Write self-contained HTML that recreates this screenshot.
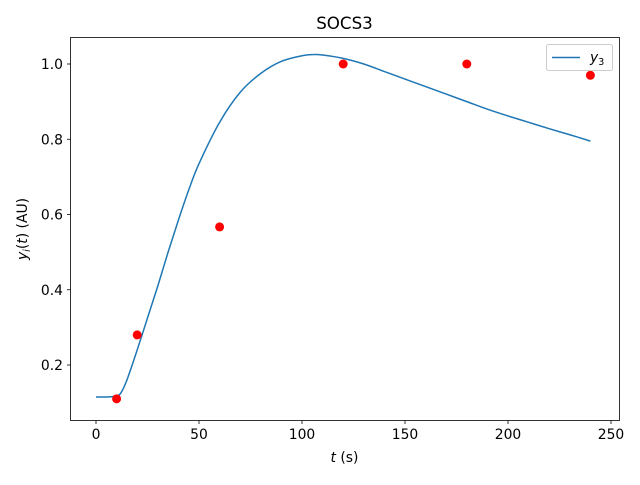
<!DOCTYPE html>
<html><head><meta charset="utf-8"><style>
body{margin:0;background:#fff;font-family:"Liberation Sans","DejaVu Sans",sans-serif}
svg text{font-family:"DejaVu Sans","Liberation Sans",sans-serif;font-size:13.9px;fill:#000}
</style></head><body>
<svg id="c" width="640" height="480" xmlns="http://www.w3.org/2000/svg">
<rect width="640" height="480" fill="#fff"/>
</svg>
<script>
const curveT=[0,5,8,10,12,15,20,25,30,35,40,45,50,60,70,80,90,100,105,110,120,130,140,150,160,170,180,190,200,210,220,230,240];
const curveY=[0.115,0.115,0.116,0.118,0.125,0.16,0.24,0.325,0.41,0.5,0.585,0.665,0.735,0.845,0.925,0.975,1.007,1.022,1.025,1.024,1.015,1.0,0.98,0.96,0.94,0.92,0.9,0.88,0.862,0.845,0.828,0.812,0.795];
const dataT=[10,20,60,120,180,240];
const dataY=[0.11,0.28,0.567,1.0,1.0,0.97];
const xTicks=[0,50,100,150,200,250];
const yTicks=[0.2,0.4,0.6,0.8,1.0];
const NS="http://www.w3.org/2000/svg";
const svg=document.getElementById('c');
const L=70,R=619,T=37,B=420;
const X=t=>96+t*(611-96)/250;
const Y=v=>365-(v-0.2)*(365-64)/0.8;
function mk(tag,attrs,parent){const e=document.createElementNS(NS,tag);for(const k in attrs)e.setAttribute(k,attrs[k]);(parent||svg).appendChild(e);return e;}
// smooth curve (Catmull-Rom)
const P=curveT.map((t,i)=>[X(t),Y(curveY[i])]);
let d='M'+P[0][0]+','+P[0][1];
for(let i=0;i<P.length-1;i++){
 const p0=P[Math.max(0,i-1)],p1=P[i],p2=P[i+1],p3=P[Math.min(P.length-1,i+2)];
 const c1=[p1[0]+(p2[0]-p0[0])/6,p1[1]+(p2[1]-p0[1])/6];
 const c2=[p2[0]-(p3[0]-p1[0])/6,p2[1]-(p3[1]-p1[1])/6];
 d+='C'+c1[0].toFixed(2)+','+c1[1].toFixed(2)+' '+c2[0].toFixed(2)+','+c2[1].toFixed(2)+' '+p2[0].toFixed(2)+','+p2[1].toFixed(2);
}
const line=mk('path',{d:d,fill:'none',stroke:'#1f77b4','stroke-width':1.5,'stroke-linejoin':'round'});


dataT.forEach((t,i)=>{
 const c=mk('circle',{cx:X(t),cy:Y(dataY[i]),r:4.5,fill:'#ff0000'});
 
 
});
const fr=mk('rect',{x:L+.5,y:T+.5,width:R-L,height:B-T,fill:'none',stroke:'#000','stroke-width':0.8});


xTicks.forEach(t=>{
 mk('line',{x1:X(t),x2:X(t),y1:B+.5,y2:B+4,stroke:'#000','stroke-width':0.8});
 const tx=mk('text',{x:X(t),y:B+19,'text-anchor':'middle'});tx.textContent=t;
 
 
});
yTicks.forEach(v=>{
 mk('line',{x1:L+.5,x2:L-3,y1:Y(v),y2:Y(v),stroke:'#000','stroke-width':0.8});
 const tx=mk('text',{x:L-7,y:Y(v)+5,'text-anchor':'end'});tx.textContent=v.toFixed(1);
 
 
});
</script>
<svg width="640" height="480" style="position:absolute;left:0;top:0" xmlns="http://www.w3.org/2000/svg">
<text x="344.5" y="29" text-anchor="middle" style="font-size:16.7px">SOCS3</text>
<text x="344.5" y="462" text-anchor="middle"><tspan font-style="italic">t</tspan> (s)</text>
<text transform="translate(27,229) rotate(-90)" text-anchor="middle"><tspan font-style="italic">y</tspan><tspan font-style="italic" font-size="9.5" dy="3">i</tspan><tspan dy="-3">(</tspan><tspan font-style="italic">t</tspan>) (AU)</text>
<g>
<rect x="546.5" y="44.5" width="66" height="26" rx="2" fill="#fff" stroke="#ccc"/>
<line x1="552" x2="580" y1="57.5" y2="57.5" stroke="#1f77b4" stroke-width="1.5"/>
<text x="590" y="62"><tspan font-style="italic">y</tspan><tspan font-size="9.5" dy="3">3</tspan></text>
</g>
</svg>
</body></html>
